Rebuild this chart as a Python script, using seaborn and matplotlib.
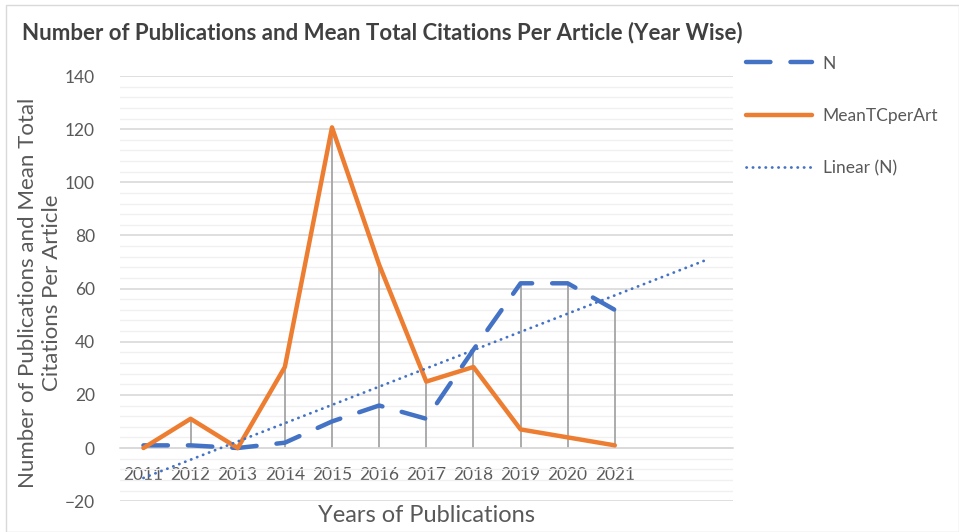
import numpy as np
import pandas as pd
import matplotlib
matplotlib.use("Agg")
import matplotlib.pyplot as plt
from matplotlib.patches import Rectangle
from matplotlib.ticker import MultipleLocator
import seaborn as sns

# data
years = [2011, 2012, 2013, 2014, 2015, 2016, 2017, 2018, 2019, 2020, 2021]
n_pubs = [1, 1, 0, 2, 10, 16, 11, 37, 62, 62, 52]
mean_tc = [0, 11, 0, 30.5, 120.7, 69, 25, 30.5, 7, 4, 1]
forecast_years = 2  # trendline forecast forward

df = pd.DataFrame({"Year": years, "N": n_pubs, "MeanTCperArt": mean_tc})

sns.set_style("white")
plt.rcParams["font.family"] = ["Lato", "DejaVu Sans"]

blue = "#4472C4"
orange = "#ED7D31"
txt = "#595959"

fig = plt.figure(figsize=(9.59, 5.32), dpi=100)
ax = fig.add_axes([0.125, 0.058, 0.639, 0.799])

# gridlines
ax.yaxis.set_major_locator(MultipleLocator(20))
ax.yaxis.set_minor_locator(MultipleLocator(4))
ax.grid(which="major", axis="y", color="#d9d9d9", lw=1.2)
ax.grid(which="minor", axis="y", color="#f0f0f0", lw=1.0)
ax.set_axisbelow(True)

# drop lines
tops = df[["N", "MeanTCperArt"]].max(axis=1)
ax.vlines(df["Year"], 0, tops, color="#a5a5a5", lw=1.3, zorder=1)

sns.lineplot(data=df, x="Year", y="N", ax=ax, color=blue, lw=3.2,
             linestyle=(0, (5.5, 4.5)), dash_capstyle="round", label="N", zorder=3)
sns.lineplot(data=df, x="Year", y="MeanTCperArt", ax=ax, color=orange, lw=3.2,
             solid_capstyle="round", label="MeanTCperArt", zorder=4)

# linear trendline of N
slope, icpt = np.polyfit(years, n_pubs, 1)
tx = np.arange(years[0], years[-1] + forecast_years + 1)
ax.plot(tx, slope * tx + icpt, color=blue, lw=2, linestyle=(0, (0.1, 2.2)),
        dash_capstyle="round", label="Linear (N)", zorder=5)

ax.set_xlim(years[0] - 0.5, years[-1] + forecast_years + 0.5)
ax.set_ylim(-20, 140)
ax.set_xticks(years)
ax.set_xticklabels([str(y) for y in years])

for s in ["top", "right", "left"]:
    ax.spines[s].set_visible(False)
ax.spines["bottom"].set_position(("data", 0))
ax.spines["bottom"].set_color("#d9d9d9")
ax.spines["bottom"].set_linewidth(1.2)
ax.tick_params(axis="x", length=0, pad=14, labelsize=12.5, labelcolor=txt)
ax.tick_params(axis="y", length=0, pad=18, labelsize=12.5, labelcolor=txt)

ax.set_xlabel("Years of Publications", fontsize=17, color=txt)
ax.xaxis.set_label_coords(0.5, -0.01)
ax.set_ylabel("Number of Publications and Mean Total\nCitations Per Article",
              fontsize=16, color=txt, linespacing=1.2)
ax.yaxis.set_label_coords(-0.095, 0.49)

fig.text(0.023, 0.938, "Number of Publications and Mean Total Citations Per Article (Year Wise)",
         fontsize=16, fontweight="bold", color="#404040", va="center")

ax.legend(loc="upper left", bbox_to_anchor=(0.762, 0.925), bbox_transform=fig.transFigure,
          frameon=False, fontsize=12.5, labelcolor=txt, handlelength=3.8,
          labelspacing=2.1, handletextpad=0.6)

fig.add_artist(Rectangle((0.006, 0.0), 0.994, 0.99, transform=fig.transFigure,
                         fill=False, edgecolor="#d9d9d9", lw=1))

fig.savefig("out.png", dpi=100)
